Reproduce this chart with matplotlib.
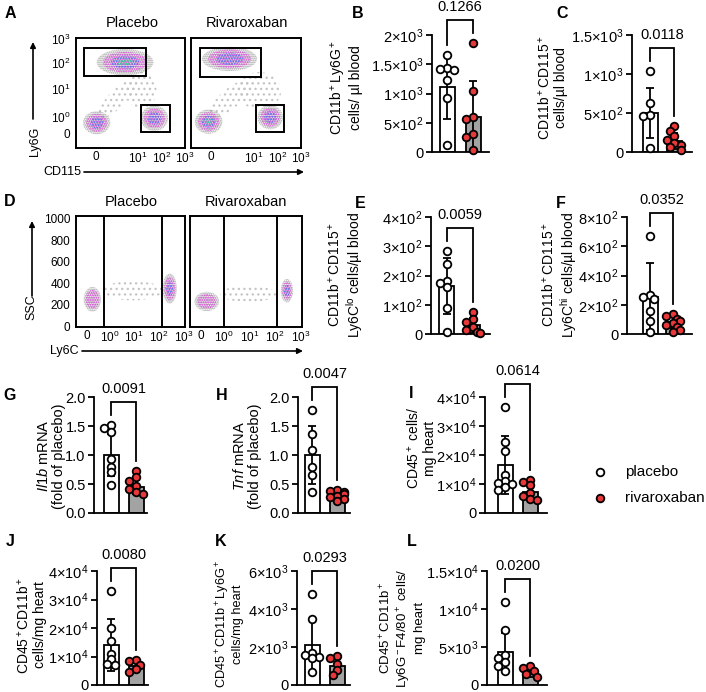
import numpy as np
import matplotlib
matplotlib.use('Agg')
import matplotlib.pyplot as plt
from matplotlib.patches import Ellipse, Rectangle

plt.rcParams['font.family'] = ['Liberation Sans', 'DejaVu Sans']
plt.rcParams['mathtext.fontset'] = 'custom'
plt.rcParams['mathtext.rm'] = 'Liberation Sans'
plt.rcParams['mathtext.it'] = 'Liberation Sans:italic'
plt.rcParams['mathtext.default'] = 'regular'
plt.rcParams['hatch.linewidth'] = 0.9

W, H = 706, 692

# ---------------- flow cytometry panels (A, D) ----------------
# axis scale positions (fraction of plot box) of the biexponential ticks
A_xtick_pos = [0.18, 0.57, 0.79, 1.0]
A_xtick_lab = ['0', '10$^1$', '10$^2$', '10$^3$']
A_ytick_pos = [0.136, 0.28, 0.54, 0.77, 0.99]
A_ytick_lab = ['0', '10$^0$', '10$^1$', '10$^2$', '10$^3$']
# gates (x, y, w, h)
A_gates_placebo = [(0.073, 0.655, 0.569, 0.254), (0.596, 0.145, 0.266, 0.246)]
A_gates_riva = [(0.082, 0.645, 0.554, 0.264), (0.590, 0.145, 0.255, 0.246)]
# cell populations (cx, cy, w, h, density levels)
A_cells_placebo = [(0.45, 0.78, 0.52, 0.24, 4), (0.19, 0.23, 0.25, 0.21, 3), (0.72, 0.27, 0.25, 0.23, 3)]
A_cells_riva = [(0.35, 0.81, 0.50, 0.22, 3), (0.16, 0.24, 0.25, 0.22, 4), (0.72, 0.28, 0.23, 0.22, 3)]
# scattered events between populations (cx, cy, w, h, angle)
A_sparse_placebo = [(0.38, 0.45, 0.48, 0.16, 45), (0.60, 0.52, 0.28, 0.34, 0)]
A_sparse_riva = [(0.36, 0.45, 0.50, 0.18, 40), (0.62, 0.52, 0.40, 0.34, 0)]

D_xtick_pos = [0.10, 0.306, 0.534, 0.755, 0.985]
D_xtick_lab = ['0', '10$^0$', '10$^1$', '10$^2$', '10$^3$']
D_yticks = [0, 200, 400, 600, 800, 1000]
D_gates_placebo = [0.257, 0.789]
D_gates_riva = [0.304, 0.777]
D_cells_placebo = [(0.15, 250, 0.16, 230, 2), (0.86, 350, 0.13, 280, 3)]
D_cells_riva = [(0.15, 230, 0.22, 180, 2), (0.866, 330, 0.11, 220, 3)]
D_sparse_placebo = [(0.52, 330, 0.55, 180, 0)]
D_sparse_riva = [(0.52, 300, 0.50, 150, 0)]

CLOUD = ['#9a9a9a', '#e040e0', '#4a6cf0', '#30e080']
LAYER = [1.0, 0.78, 0.5, 0.28]
HATCH = ['........', '.......', '......', '......']

# ---------------- bar panels ----------------
B_placebo = [1650, 1430, 1400, 1420, 1230, 920, 120]
B_riva = [1870, 1050, 600, 560, 300, 250, 30]
B_mean, B_sd, B_p = [1110, 600], [550, 610], '0.1266'
B_ticks = [0, 500, 1000, 1500, 2000]
B_ticklab = ['0', '5×10$^2$', '1×10$^3$', '1.5×10$^3$', '2×10$^3$']

C_placebo = [1040, 630, 480, 460, 50]
C_riva = [330, 270, 200, 160, 120, 90, 60, 30]
C_mean, C_sd, C_p = [500, 140], [320, 100], '0.0118'
C_ticks = [0, 500, 1000, 1500]
C_ticklab = ['0', '5×10$^2$', '1×10$^3$', '1.5×10$^3$']

E_placebo = [285, 240, 180, 175, 160, 90, 8]
E_riva = [75, 50, 40, 25, 15, 8, 5]
E_mean, E_sd, E_p = [165, 30], [95, 25], '0.0059'
E_ticks = [0, 100, 200, 300, 400]
E_ticklab = ['0', '1×10$^2$', '2×10$^2$', '3×10$^2$', '4×10$^2$']

F_placebo = [670, 270, 255, 240, 160, 90, 15]
F_riva = [140, 120, 105, 90, 75, 60, 45, 30, 15]
F_mean, F_sd, F_p = [255, 80], [230, 40], '0.0352'
F_ticks = [0, 200, 400, 600, 800]
F_ticklab = ['0', '2×10$^2$', '4×10$^2$', '6×10$^2$', '8×10$^2$']

G_placebo = [1.52, 1.47, 1.40, 0.93, 0.80, 0.70, 0.48]
G_riva = [0.72, 0.62, 0.55, 0.47, 0.42, 0.37, 0.33]
G_mean, G_sd, G_p = [1.0, 0.45], [0.37, 0.12], '0.0091'
G_ticks = [0, 0.5, 1.0, 1.5, 2.0]
G_ticklab = ['0.0', '0.5', '1.0', '1.5', '2.0']

H_placebo = [1.77, 1.37, 1.09, 0.80, 0.66, 0.37]
H_riva = [0.40, 0.38, 0.36, 0.33, 0.30, 0.27, 0.24, 0.20]
H_mean, H_sd, H_p = [1.0, 0.28], [0.5, 0.07], '0.0047'

I_placebo = [36500, 24500, 21500, 13000, 11000, 10500, 10000, 9000, 8000]
I_riva = [11500, 10800, 9500, 7000, 6000, 5000, 4500]
I_mean, I_sd, I_p = [16500, 7300], [10000, 2500], '0.0614'
I_ticks = [0, 10000, 20000, 30000, 40000]
I_ticklab = ['0', '1×10$^4$', '2×10$^4$', '3×10$^4$', '4×10$^4$']

J_placebo = [33000, 20000, 15500, 11000, 9000, 7500, 7000]
J_riva = [8800, 8300, 7000, 5500, 4500]
J_mean, J_sd, J_p = [14000, 6800], [9000, 1700], '0.0080'

K_placebo = [4800, 3500, 1700, 1600, 1500, 1400, 700]
K_riva = [1550, 1400, 1100, 800, 550]
K_mean, K_sd, K_p = [2100, 1000], [1400, 380], '0.0293'
K_ticks = [0, 2000, 4000, 6000]
K_ticklab = ['0', '2×10$^3$', '4×10$^3$', '6×10$^3$']

L_placebo = [10900, 7200, 4000, 3500, 3000, 2500, 1800]
L_riva = [2500, 2200, 1800, 1500, 1100]
L_mean, L_sd, L_p = [4300, 1600], [2500, 600], '0.0200'
L_ticks = [0, 5000, 10000, 15000]
L_ticklab = ['0', '5×10$^3$', '1×10$^4$', '1.5×10$^4$']

# layout in pixels: axis left, axis right, top tick, zero, bar1 centre, bar spacing
LAYOUT = {
    'B': (432, 489, 35, 152, 447, 26),
    'C': (632, 692, 35, 152, 650, 24),
    'E': (431, 490, 217, 334, 447, 26),
    'F': (627, 692, 217, 334, 650, 23),
    'G': (94, 147, 397, 513, 111, 25),
    'H': (298, 350, 397, 513, 312, 25),
    'I': (485, 547, 397, 513, 505, 25),
    'J': (97, 148, 571, 685, 111, 25),
    'K': (297, 350, 571, 685, 312, 25),
    'L': (487, 547, 571, 685, 505, 25),
}
LW = 1.3
BAR_W = 15
DOT = 7.5
RED = '#e8383a'
GREY = '#a3a3a3'

fig = plt.figure(figsize=(W / 100, H / 100), dpi=100)


def px_axes(x0, y0, x1, y1):
    return fig.add_axes([x0 / W, 1 - y1 / H, (x1 - x0) / W, (y1 - y0) / H])


def swarm(values, ky, sp):
    # simple Prism-like scatter: shift overlapping dots sideways
    order = np.argsort(values)[::-1]
    placed = []
    xs = np.zeros(len(values))
    cands = [0, -0.5, 0.5, -0.9, 0.9]
    for i in order:
        py = values[i] * ky
        ox = 0
        for c in cands:
            ox = c * DOT
            if all((ox - qx) ** 2 + (py - qy) ** 2 >= (0.75 * DOT) ** 2 for qx, qy in placed):
                break
        placed.append((ox, py))
        xs[i] = ox / sp
    return xs


def bar_panel(key, placebo, riva, means, sds, pval, ticks, ticklab):
    ax0, ax1, yt, yz, b1, sp = LAYOUT[key]
    ymax = ticks[-1]
    ax = px_axes(ax0, yt, ax1, yz)
    ax.set_xlim(1 - (b1 - ax0) / sp, 1 + (ax1 - b1) / sp)
    ax.set_ylim(0, ymax)
    ky = (yz - yt) / ymax
    for s in ['top', 'right']:
        ax.spines[s].set_visible(False)
    for s in ['left', 'bottom']:
        ax.spines[s].set_linewidth(LW)
    ax.set_xticks([])
    ax.set_yticks(ticks)
    ax.set_yticklabels(ticklab)
    ax.tick_params(axis='y', length=4, width=LW, pad=2, labelsize=10.5)

    ax.bar([1, 2], means, width=BAR_W / sp, color=['white', GREY],
           edgecolor='black', linewidth=LW, zorder=2)
    lower = [min(m, s) for m, s in zip(means, sds)]
    ax.errorbar([1, 2], means, yerr=[lower, sds], fmt='none', ecolor='black',
                elinewidth=LW, capsize=3, capthick=LW, zorder=3, clip_on=False)
    for pos, vals, face in [(1, placebo, 'white'), (2, riva, RED)]:
        vals = np.array(vals, dtype=float)
        xs = pos + swarm(vals, ky, sp)
        ax.plot(xs, vals, 'o', ms=5.5, mfc=face, mec='black', mew=LW,
                clip_on=False, zorder=4)

    # significance bracket
    left = (max(max(placebo), means[0] + sds[0]) * ky + 10) / ky
    right = (max(max(riva), means[1] + sds[1]) * ky + 10) / ky
    top = max(left, right) + 13 / ky
    ax.plot([1, 1, 2, 2], [left, top, top, right], color='black', lw=LW,
            clip_on=False, solid_joinstyle='miter')
    ax.text(1.5, top + 13 / ky, pval, ha='center', va='center', fontsize=10.5)
    return ax


def cloud(ax, cx, cy, w, h, levels):
    for lvl in range(levels):
        f = LAYER[lvl]
        ax.add_patch(Ellipse((cx, cy), w * f, h * f, facecolor='none',
                             edgecolor=CLOUD[lvl], linewidth=0, hatch=HATCH[lvl]))


def sparse(ax, cx, cy, w, h, ang):
    ax.add_patch(Ellipse((cx, cy), w, h, angle=ang, facecolor='none',
                         edgecolor='#c4c4c4', linewidth=0, hatch='...'))


def flow_box(box, ylim):
    ax = px_axes(*box)
    ax.set_xlim(0, 1)
    ax.set_ylim(*ylim)
    for s in ax.spines.values():
        s.set_linewidth(1.4)
    ax.tick_params(length=0, labelsize=8.5, pad=2)
    return ax


# panel A
for i, (box, gates, cells, sp_cells) in enumerate([
        ((76, 38, 185, 148), A_gates_placebo, A_cells_placebo, A_sparse_placebo),
        ((191, 38, 301, 148), A_gates_riva, A_cells_riva, A_sparse_riva)]):
    ax = flow_box(box, (0, 1))
    for c in sp_cells:
        sparse(ax, *c)
    for c in cells:
        cloud(ax, *c)
    for g in gates:
        ax.add_patch(Rectangle(g[:2], g[2], g[3], fill=False, lw=1.4, zorder=5))
    ax.set_xticks(A_xtick_pos)
    ax.set_xticklabels(A_xtick_lab)
    ax.set_yticks(A_ytick_pos)
    ax.set_yticklabels(A_ytick_lab if i == 0 else [])
    ax.tick_params(axis='y', pad=4)

# panel D
for i, (box, gates, cells, sp_cells) in enumerate([
        ((76, 216, 185, 327), D_gates_placebo, D_cells_placebo, D_sparse_placebo),
        ((190, 216, 302, 327), D_gates_riva, D_cells_riva, D_sparse_riva)]):
    ax = flow_box(box, (-9, 1028))
    for c in sp_cells:
        sparse(ax, *c)
    for c in cells:
        cloud(ax, *c)
    for g in gates:
        ax.axvline(g, color='black', lw=1.4, zorder=5)
    ax.set_xticks(D_xtick_pos)
    ax.set_xticklabels(D_xtick_lab)
    ax.set_yticks(D_yticks)
    ax.set_yticklabels([str(v) for v in D_yticks] if i == 0 else [])
    ax.tick_params(axis='y', pad=4)

bar_panel('B', B_placebo, B_riva, B_mean, B_sd, B_p, B_ticks, B_ticklab)
bar_panel('C', C_placebo, C_riva, C_mean, C_sd, C_p, C_ticks, C_ticklab)
bar_panel('E', E_placebo, E_riva, E_mean, E_sd, E_p, E_ticks, E_ticklab)
bar_panel('F', F_placebo, F_riva, F_mean, F_sd, F_p, F_ticks, F_ticklab)
bar_panel('G', G_placebo, G_riva, G_mean, G_sd, G_p, G_ticks, G_ticklab)
bar_panel('H', H_placebo, H_riva, H_mean, H_sd, H_p, G_ticks, G_ticklab)
bar_panel('I', I_placebo, I_riva, I_mean, I_sd, I_p, I_ticks, I_ticklab)
bar_panel('J', J_placebo, J_riva, J_mean, J_sd, J_p, I_ticks, I_ticklab)
bar_panel('K', K_placebo, K_riva, K_mean, K_sd, K_p, K_ticks, K_ticklab)
bar_panel('L', L_placebo, L_riva, L_mean, L_sd, L_p, L_ticks, L_ticklab)

# overlay in pixel coordinates for labels, arrows, legend
ov = fig.add_axes([0, 0, 1, 1], zorder=10)
ov.set_xlim(0, W)
ov.set_ylim(H, 0)
ov.axis('off')

letters = {'A': (10, 13), 'B': (358, 13), 'C': (562, 13), 'D': (10, 202),
           'E': (360, 204), 'F': (561, 204), 'G': (10, 396), 'H': (222, 396),
           'I': (411, 393), 'J': (10, 541), 'K': (221, 541), 'L': (412, 542)}
for k, (x, y) in letters.items():
    ov.text(x, y, k, fontsize=11.5, fontweight='bold', ha='center', va='center')

for x, y, t in [(132, 23, 'Placebo'), (247, 23, 'Rivaroxaban'),
                (131, 202, 'Placebo'), (246, 202, 'Rivaroxaban')]:
    ov.text(x, y, t, fontsize=10.5, ha='center', va='center')

arrow = dict(arrowstyle='-|>', lw=1.2, color='black', mutation_scale=8,
             shrinkA=0, shrinkB=0)
ov.annotate('', xy=(33, 42), xytext=(33, 119), arrowprops=arrow)
ov.text(35, 141, 'Ly6G', rotation=90, fontsize=9, ha='center', va='center')
ov.annotate('', xy=(304, 172), xytext=(84, 172), arrowprops=arrow)
ov.text(62, 172, 'CD115', fontsize=9, ha='center', va='center')
ov.annotate('', xy=(32, 221), xytext=(32, 296), arrowprops=arrow)
ov.text(31, 307, 'SSC', rotation=90, fontsize=9, ha='center', va='center')
ov.annotate('', xy=(303, 351), xytext=(82, 351), arrowprops=arrow)
ov.text(64, 351, 'Ly6C', fontsize=9, ha='center', va='center')

ylabels = [
    (346, 88, 'CD11b$^+$Ly6G$^+$\ncells/ µl blood', 10),
    (552, 88, 'CD11b$^+$CD115$^+$\ncells/µl blood', 10),
    (346, 275, 'CD11b$^+$CD115$^+$\nLy6C$^{lo}$ cells/µl blood', 10),
    (560, 275, 'CD11b$^+$CD115$^+$\nLy6C$^{hi}$ cells/µl blood', 10),
    (51, 456, '$\\mathit{Il1b}$ mRNA\n(fold of placebo)', 10.5),
    (247, 456, '$\\mathit{Tnf}$ mRNA\n(fold of placebo)', 10.5),
    (421, 448, 'CD45$^+$ cells/\nmg heart', 10),
    (31, 625, 'CD45$^+$CD11b$^+$\ncells/mg heart', 10),
    (229, 624, 'CD45$^+$CD11b$^+$Ly6G$^+$\ncells/mg heart', 9.2),
    (402, 628, 'CD45$^+$CD11b$^+$\nLy6G$^-$F4/80$^+$ cells/\nmg heart', 9.5),
]
for x, y, t, fs in ylabels:
    ov.text(x, y, t, rotation=90, fontsize=fs, ha='center', va='center',
            multialignment='center', linespacing=1.1)

# legend
ov.plot([600], [472], 'o', ms=5.5, mfc='white', mec='black', mew=LW)
ov.plot([600], [498], 'o', ms=5.5, mfc=RED, mec='black', mew=LW)
ov.text(625, 472, 'placebo', fontsize=11, va='center')
ov.text(625, 498, 'rivaroxaban', fontsize=11, va='center')

fig.savefig('out.png', dpi=100)
